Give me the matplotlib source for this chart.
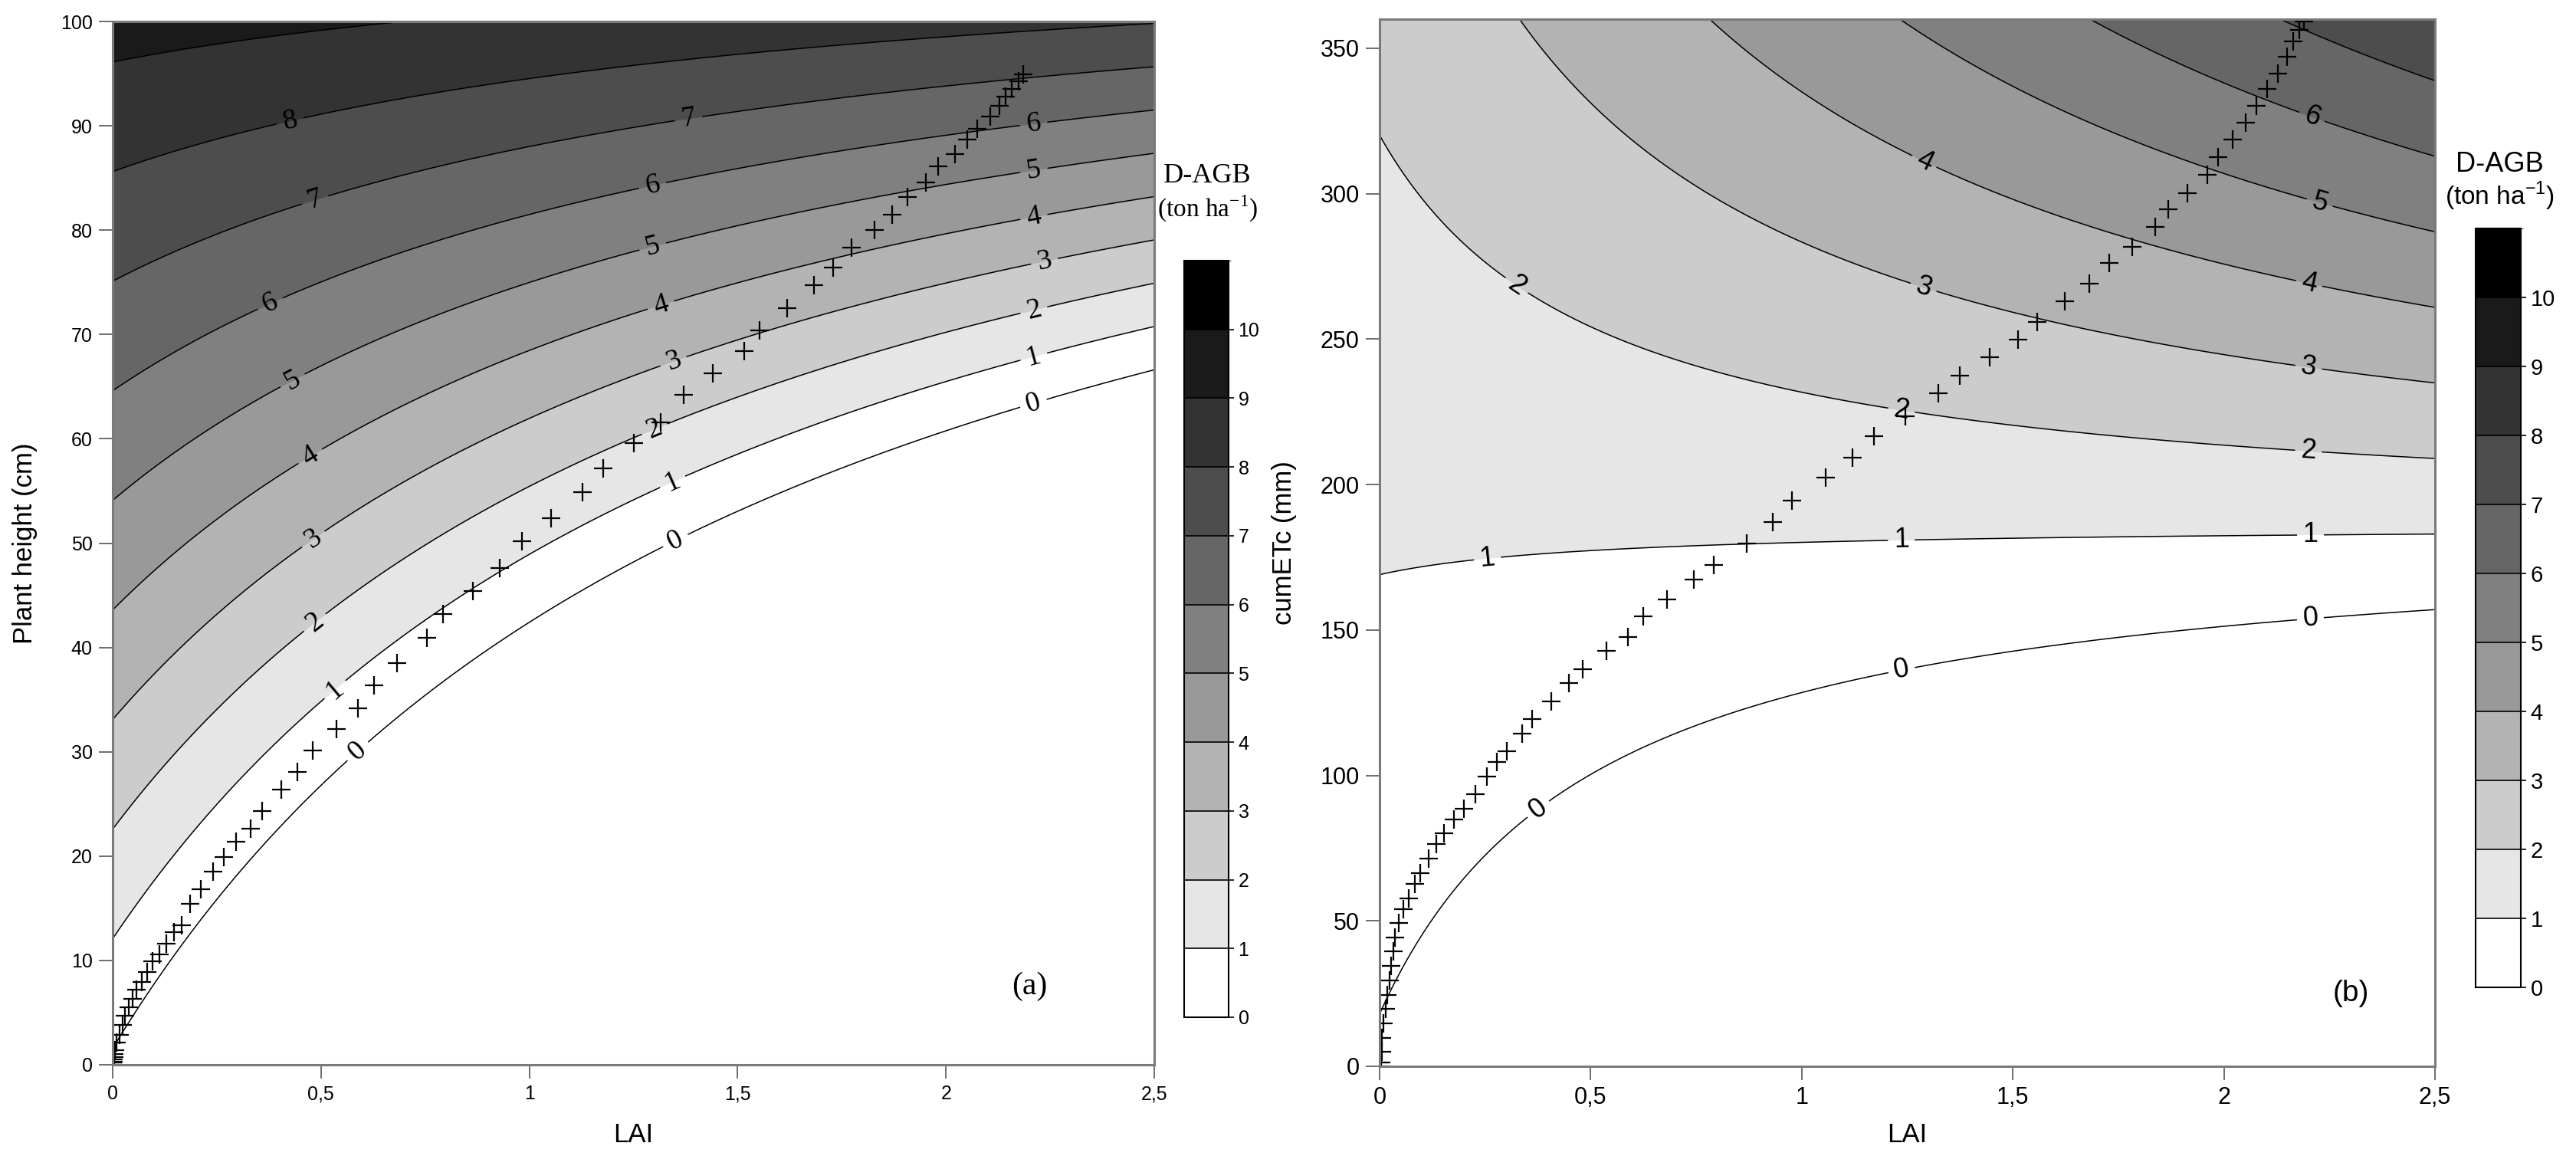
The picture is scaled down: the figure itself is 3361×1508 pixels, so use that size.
import numpy as np
import matplotlib
matplotlib.use("Agg")
import matplotlib.pyplot as plt
from matplotlib.colors import ListedColormap, BoundaryNorm
from matplotlib.colorbar import ColorbarBase

# regression surfaces: D-AGB = c0 + c1*Y + c2*LAI + c3*Y*LAI
height_coef = [-0.15, 0.0952, -6.36, 0.0583]
etc_coef = [-0.119, 0.00662, -2.37, 0.01275]

# observed trajectories (+ markers)
lai_a = [0.0, 0.0, 0.001, 0.002, 0.003, 0.004, 0.006, 0.01, 0.016, 0.023, 0.030, 0.038, 0.048,
         0.057, 0.069, 0.082, 0.095, 0.112, 0.129, 0.147, 0.166, 0.186, 0.211, 0.241, 0.267,
         0.297, 0.332, 0.359, 0.404, 0.444, 0.481, 0.538, 0.589, 0.627, 0.683, 0.754, 0.792,
         0.864, 0.929, 0.983, 1.052, 1.127, 1.178, 1.250, 1.316, 1.371, 1.440, 1.515, 1.553,
         1.619, 1.684, 1.729, 1.773, 1.828, 1.871, 1.908, 1.952, 1.982, 2.022, 2.052, 2.075,
         2.106, 2.128, 2.143, 2.158, 2.174, 2.186]
height_a = [0.0, 0.2, 0.3, 0.5, 0.7, 1.0, 1.4, 2.1, 2.9, 3.8, 4.7, 5.5, 6.3,
            7.2, 7.9, 8.9, 9.9, 10.6, 11.6, 12.7, 13.4, 15.4, 16.8, 18.5, 19.9,
            21.4, 22.6, 24.3, 26.4, 28.1, 30.1, 32.2, 34.2, 36.4, 38.5, 40.9, 43.2,
            45.4, 47.6, 50.2, 52.4, 54.9, 57.2, 59.6, 61.6, 64.2, 66.3, 68.4, 70.4,
            72.5, 74.7, 76.4, 78.3, 80.0, 81.5, 83.2, 84.6, 86.1, 87.3, 88.7, 89.7,
            90.9, 91.9, 92.8, 93.5, 94.3, 94.9]

lai_b = [0.002, 0.003, 0.005, 0.006, 0.009, 0.014, 0.019, 0.023, 0.028, 0.032, 0.037, 0.046,
         0.056, 0.069, 0.083, 0.097, 0.116, 0.134, 0.153, 0.176, 0.199, 0.227, 0.255, 0.278,
         0.301, 0.338, 0.361, 0.407, 0.449, 0.481, 0.537, 0.588, 0.625, 0.681, 0.745, 0.792,
         0.870, 0.931, 0.977, 1.056, 1.120, 1.171, 1.245, 1.324, 1.375, 1.446, 1.512, 1.558,
         1.624, 1.682, 1.729, 1.782, 1.838, 1.869, 1.914, 1.960, 1.986, 2.021, 2.052, 2.077,
         2.103, 2.128, 2.149, 2.164, 2.179, 2.189]
etc_b = [0.0, 1.2, 4.9, 9.8, 14.8, 19.7, 24.6, 29.5, 34.5, 39.4, 44.3, 49.2,
         54.1, 57.8, 62.8, 66.5, 71.4, 76.3, 80.0, 84.9, 88.6, 93.5, 99.7, 104.6,
         108.3, 114.4, 119.4, 125.5, 131.7, 136.6, 142.8, 147.7, 154.6, 160.5, 167.4, 172.3,
         179.7, 187.1, 194.4, 202.3, 209.2, 216.6, 223.5, 231.4, 237.5, 243.7, 249.8, 256.0,
         262.9, 269.0, 276.2, 281.8, 288.5, 294.6, 300.3, 306.4, 312.6, 318.7, 324.4, 330.3,
         336.0, 341.4, 347.0, 352.4, 356.4, 359.3]

levels = list(range(0, 11))
gray_bins = ['#ffffff', '#e6e6e6', '#cccccc', '#b3b3b3', '#999999', '#808080',
             '#666666', '#4d4d4d', '#333333', '#1a1a1a', '#000000']
lai_ticks = [0, 0.5, 1, 1.5, 2, 2.5]
lai_ticklabels = ['0', '0,5', '1', '1,5', '2', '2,5']

SANS = 'Liberation Sans'
SERIF = 'Liberation Serif'
W, H = 3361, 1508

plt.rcParams['mathtext.fontset'] = 'custom'
plt.rcParams['mathtext.rm'] = SERIF
plt.rcParams['mathtext.sf'] = SANS


def surface(coef, lai, y):
    return coef[0] + coef[1] * y + coef[2] * lai + coef[3] * y * lai


def px_axes(fig, x0, y0, x1, y1):
    # rectangle given in pixels from the top-left corner
    return fig.add_axes([x0 / W, 1 - y1 / H, (x1 - x0) / W, (y1 - y0) / H])


def panel(ax, coef, ymax, yticks, xs, ys, lbl_pos, lbl_font, lbl_size, tick_size):
    lai = np.linspace(0, 2.5, 500)
    yy = np.linspace(0, ymax, 500)
    LL, YY = np.meshgrid(lai, yy)
    Z = surface(coef, LL, YY)
    fill_levels = [-1000] + levels + [1000]
    ax.contourf(LL, YY, Z, levels=fill_levels, colors=[gray_bins[0]] + gray_bins)
    cs = ax.contour(LL, YY, Z, levels=levels, colors='black', linewidths=1.1)
    txts = ax.clabel(cs, levels=levels, manual=lbl_pos, inline=True, inline_spacing=6,
                     fmt='%d', fontsize=lbl_size)
    for t in txts:
        t.set_fontfamily(lbl_font)
    ax.plot(xs, ys, ls='none', marker='+', ms=17, mew=1.6, color='black', zorder=5)
    ax.set_xlim(0, 2.5)
    ax.set_ylim(0, ymax)
    ax.set_xticks(lai_ticks)
    ax.set_xticklabels(lai_ticklabels)
    ax.set_yticks(yticks)
    ax.tick_params(direction='out', length=13, width=1.4, color='#6e6e6e', pad=6,
                   labelsize=tick_size)
    for lab in ax.get_xticklabels() + ax.get_yticklabels():
        lab.set_fontfamily(SANS)
    for s in ax.spines.values():
        s.set_color('#7a7a7a')
        s.set_linewidth(2.2)
        s.set_zorder(6)


def colorbar(fig, box, title_font, unit_text, tick_size, title_y):
    cax = px_axes(fig, *box)
    cb = ColorbarBase(cax, cmap=ListedColormap(gray_bins), norm=BoundaryNorm(range(12), 11),
                      ticks=levels, drawedges=True)
    cb.outline.set_linewidth(1.5)
    cb.dividers.set_linewidth(1.2)
    cax.tick_params(length=5, width=1.2, labelsize=tick_size, pad=4)
    for lab in cax.get_yticklabels():
        lab.set_fontfamily(SANS)
    xc = (box[0] + box[2]) / 2 / W + 0.0005
    fig.text(xc, 1 - title_y[0] / H, 'D-AGB', ha='center', va='center',
             fontsize=26, family=title_font)
    fig.text(xc, 1 - title_y[1] / H, unit_text, ha='center', va='center',
             fontsize=24, family=title_font)


fig = plt.figure(figsize=(W / 100, H / 100), dpi=100)

# (a) LAI x plant height
ax1 = px_axes(fig, 147, 28, 1506, 1389)
lbl_a = [(0.424, 90.8), (0.483, 83.2), (0.379, 72.9), (0.429, 65.8), (0.473, 58.4),
         (0.483, 50.3), (0.483, 42.5), (0.533, 36.0), (0.587, 30.1),
         (1.381, 91.1), (1.295, 84.4), (1.295, 78.6), (1.315, 72.9), (1.345, 67.5),
         (1.30, 61.0), (1.345, 55.8), (1.35, 50.3),
         (2.21, 90.4), (2.21, 86.0), (2.21, 81.5), (2.236, 77.1), (2.21, 72.5),
         (2.21, 68.0), (2.21, 63.4)]
panel(ax1, height_coef, 100, range(0, 101, 10), lai_a, height_a, lbl_a, SERIF, 27, 18)
ax1.set_xlabel('LAI', fontsize=25, family=SANS, va='center')
ax1.xaxis.set_label_coords(0.5, -(1480 - 1389) / 1361)
ax1.set_ylabel('Plant height (cm)', fontsize=25, family=SANS, va='center')
ax1.yaxis.set_label_coords(-(147 - 33) / 1359, 0.5)
ax1.text(2.2, 7.5, '(a)', fontsize=30, family=SERIF, ha='center', va='center')
colorbar(fig, (1545, 340, 1603, 1327), SERIF, '(ton ha$^{-1}$)', 18, (230, 272))

# (b) LAI x cumulative crop evapotranspiration
ax2 = px_axes(fig, 1800, 25, 3177, 1391)
lbl_b = [(0.324, 268.3), (0.255, 175.2), (0.375, 88.6),
         (1.287, 310.0), (1.287, 267.0), (1.236, 225.2), (1.236, 180.9), (1.236, 136.6),
         (2.205, 324.9), (2.225, 295.8), (2.2, 267.8), (2.2, 239.5), (2.2, 211.2),
         (2.205, 182.6), (2.205, 153.8)]
panel(ax2, etc_coef, 360, range(0, 351, 50), lai_b, etc_b, lbl_b, SANS, 26, 22)
ax2.set_xlabel('LAI', fontsize=25, family=SANS, va='center')
ax2.xaxis.set_label_coords(0.5, -(1480 - 1391) / 1366)
ax2.set_ylabel('cumETc (mm)', fontsize=25, family=SANS, va='center')
ax2.yaxis.set_label_coords(-(1800 - 1675) / 1377, 0.5)
ax2.text(2.3, 25, '(b)', fontsize=28, family=SANS, ha='center', va='center')
colorbar(fig, (3230, 298, 3289, 1288), SANS, r'(ton ha$^{\mathsf{-1}}$)', 21, (214, 256))

fig.savefig('out.png', dpi=100)
